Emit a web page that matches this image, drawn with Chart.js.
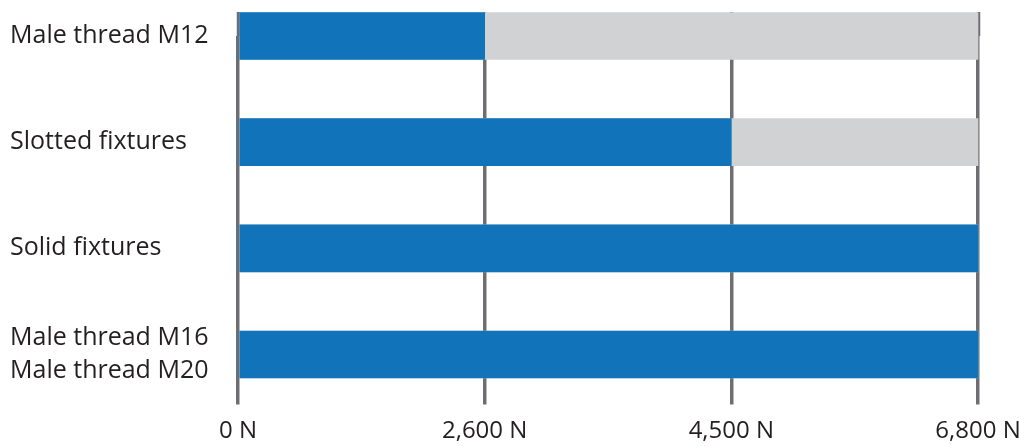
<!DOCTYPE html>
<html>
<head>
<meta charset="utf-8">
<script src="https://cdn.jsdelivr.net/npm/chart.js@4"></script>
<style>
  html, body { margin: 0; padding: 0; background: #fff; }
  #wrap { width: 1020px; height: 446px; }
</style>
</head>
<body>
<div id="wrap"><canvas id="kraft" width="1020" height="446"></canvas></div>
<script>
// categories, top to bottom
const categories = ['Male thread M12', 'Slotted fixtures', 'Solid fixtures', ['Male thread M16', 'Male thread M20']];
// load values in N
const loadValues = [2600, 4500, 6800, 6800];
const maxValues = [6800, 6800, 6800, 6800];
// the axis ticks are evenly spaced, not to scale
const tickValues = [0, 2600, 4500, 6800];
const tickLabels = ['0 N', '2,600 N', '4,500 N', '6,800 N'];

const toStep = v => tickValues.indexOf(v);

const blau = '#1174bb';
const grau = '#d1d2d4';
const linie = '#6d6e71';
const schrift = "'Open Sans', sans-serif";

const kraft = document.getElementById('kraft');
new Chart(kraft, {
  type: 'bar',
  data: {
    labels: categories,
    datasets: [
      {
        data: loadValues.map(toStep),
        backgroundColor: blau,
        barThickness: 47,
        grouped: false,
        clip: false
      },
      {
        data: maxValues.map(toStep),
        backgroundColor: grau,
        barThickness: 47,
        grouped: false,
        clip: false
      }
    ]
  },
  options: {
    indexAxis: 'y',
    responsive: false,
    animation: false,
    layout: { padding: { left: 10, top: 12, right: 0, bottom: 0 } },
    plugins: { legend: { display: false }, tooltip: { enabled: false } },
    scales: {
      x: {
        type: 'linear',
        position: 'bottom',
        min: 0,
        max: 3,
        z: 1,
        border: { display: false },
        grid: { color: linie, lineWidth: 3.5, tickLength: 50, tickColor: linie, tickWidth: 3.5 },
        afterFit: s => { s.height = 91.5; s.paddingRight = 42; },
        ticks: {
          stepSize: 1,
          padding: 12,
          color: '#231f20',
          font: { family: schrift, size: 24 },
          callback: v => tickLabels[v]
        }
      },
      x2: {
        type: 'linear',
        position: 'top',
        min: 0,
        max: 3,
        z: 1,
        border: { display: false },
        grid: { drawOnChartArea: false, tickLength: 24, tickColor: linie, tickWidth: 3.5 },
        ticks: { stepSize: 1, display: false }
      },
      y: {
        type: 'category',
        offset: false,
        border: { display: false },
        grid: { display: false },
        afterFit: s => { s.width = 228; },
        ticks: {
          crossAlign: 'far',
          color: '#231f20',
          font: { family: schrift, size: 25, lineHeight: 1.3 }
        }
      }
    }
  }
});
</script>
</body>
</html>
